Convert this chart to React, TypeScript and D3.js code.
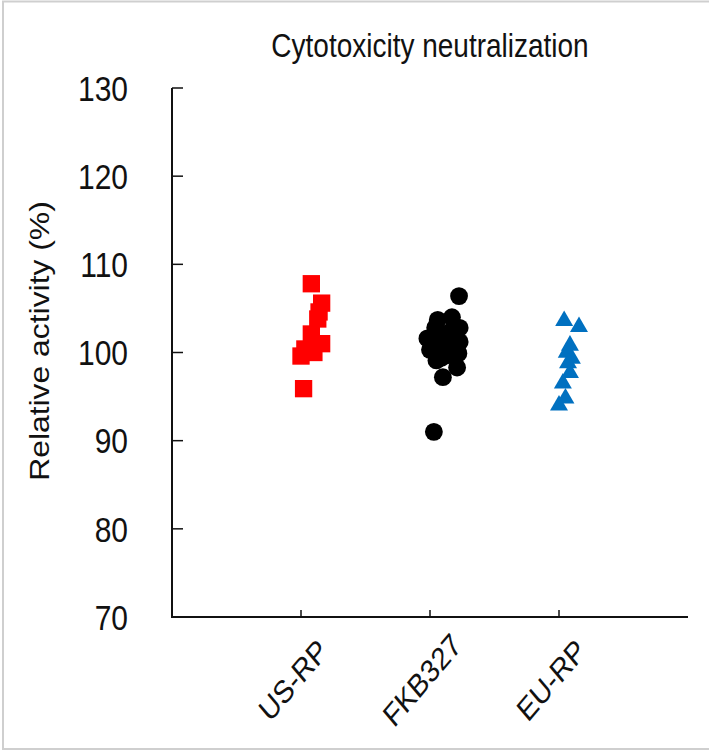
import * as d3 from "d3";

const categories = ["US-RP", "FKB327", "EU-RP"];
const yTicks = [70, 80, 90, 100, 110, 120, 130];
const title = "Cytotoxicity neutralization";
const yLabel = "Relative activity (%)";

// [value, horizontal jitter in category units]
const usRp: [number, number][] = [
  [107.8, 0.08], [105.6, 0.16], [104.6, 0.14], [103.8, 0.13], [102.1, 0.08],
  [101.0, 0.16], [100.4, 0.03], [100.0, 0.1], [99.6, 0.0], [95.9, 0.02],
];
const fkb327: [number, number][] = [
  [106.4, 0.225], [104.0, 0.17], [103.7, 0.06], [102.8, 0.23], [102.8, 0.04],
  [102.4, 0.16], [102.0, 0.12], [101.6, -0.02], [101.5, 0.1], [101.2, 0.23],
  [100.9, 0.08], [100.6, 0.17], [100.3, 0.0], [99.9, 0.22], [99.7, 0.14],
  [99.4, 0.09], [99.1, 0.05], [98.3, 0.21], [97.2, 0.1], [91.0, 0.03],
];
const euRp: [number, number][] = [
  [103.6, 0.04], [102.9, 0.155], [100.8, 0.085], [100.0, 0.06], [99.3, 0.1],
  [98.8, 0.07], [97.7, 0.085], [96.5, 0.03], [94.8, 0.05], [94.0, 0.0],
];

const font = "'Liberation Sans', Arial, sans-serif";
const stretch = 1.18;

export default function App() {
  const W = 709, H = 754;
  const x = d3.scaleLinear().domain([0, 4]).range([172, 688]);
  const y = d3.scaleLinear().domain([70, 130]).range([617, 88]);

  const groups = [
    { data: usRp, idx: 1, color: "#ff0000", sym: d3.symbolSquare, size: 300 },
    { data: fkb327, idx: 2, color: "#000000", sym: d3.symbolCircle, size: 250 },
    { data: euRp, idx: 3, color: "#0070c0", sym: d3.symbolTriangle, size: 140 },
  ];

  return (
    <div style={{ position: "absolute", left: 0, top: 0 }}>
      <svg width={W} height={H} style={{ display: "block", fontFamily: font }}>
        <rect x={0} y={0} width={W} height={H} fill="#fff" />
        <rect x={3} y={1.5} width={W + 10} height={747.5} fill="none" stroke="#cfcfcf" strokeWidth={2} />

        <text transform={`translate(430,57) scale(1,${stretch})`} textAnchor="middle" fontSize={28} fill="#111">
          {title}
        </text>

        {/* y axis */}
        <line x1={x(0)} x2={x(0)} y1={y(130)} y2={y(70)} stroke="#111" strokeWidth={2} />
        {yTicks.map((t) => (
          <g key={t}>
            <line x1={x(0)} x2={x(0) + 11} y1={y(t)} y2={y(t)} stroke="#111" strokeWidth={1.5} />
            <text transform={`translate(128,${y(t)}) scale(1,${stretch})`} dy="0.36em" textAnchor="end" fontSize={30} fill="#111">
              {t}
            </text>
          </g>
        ))}
        <text transform={`translate(49,341) scale(1,${stretch}) rotate(-90)`} textAnchor="middle" fontSize={27} fill="#111">
          {yLabel}
        </text>

        {/* x axis */}
        <line x1={x(0) - 1} x2={x(4)} y1={y(70)} y2={y(70)} stroke="#111" strokeWidth={2} />
        {categories.map((c, i) => (
          <g key={c}>
            <line x1={x(i + 1)} x2={x(i + 1)} y1={y(70)} y2={y(70) - 7} stroke="#111" strokeWidth={1.5} />
            <text transform={`translate(${x(i + 1) - 8},680) scale(1,${stretch}) rotate(-45)`} dy="0.35em" textAnchor="middle" fontSize={27} fill="#111">
              {c}
            </text>
          </g>
        ))}

        {groups.map((g) =>
          g.data.map(([v, j], k) => (
            <path
              key={`${g.idx}-${k}`}
              d={d3.symbol().type(g.sym).size(g.size)() || ""}
              transform={`translate(${x(g.idx + j)},${y(v)})`}
              fill={g.color}
            />
          ))
        )}
      </svg>
    </div>
  );
}
